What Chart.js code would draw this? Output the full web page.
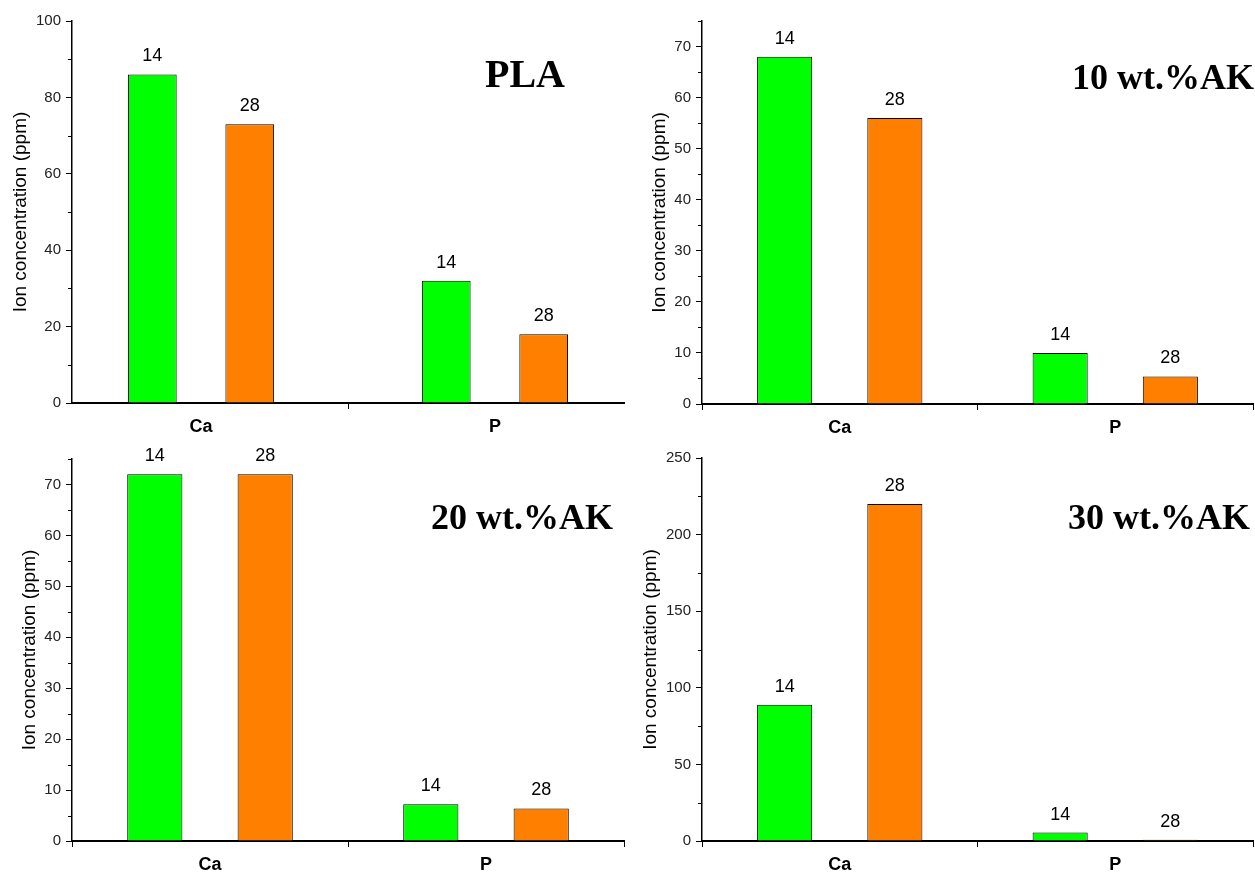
<!DOCTYPE html>
<html>
<head>
<meta charset="utf-8">
<title>Ion concentration</title>
<script src="https://cdn.jsdelivr.net/npm/chart.js@4.4.1/dist/chart.umd.min.js"></script>
<style>
  body { margin: 0; background: #fff; }
  #wrap { position: relative; width: 1255px; height: 875px; overflow: hidden; }
  canvas { position: absolute; }
</style>
</head>
<body>
<div id="wrap">
  <canvas id="pla" width="630" height="440" style="left:0;top:0"></canvas>
  <canvas id="ak10" width="625" height="440" style="left:630px;top:0"></canvas>
  <canvas id="ak20" width="630" height="435" style="left:0;top:440px"></canvas>
  <canvas id="ak30" width="625" height="435" style="left:630px;top:440px"></canvas>
</div>
<script>
"use strict";

// Data

let categories = ["Ca", "P"];
let days = ["14", "28"];

let plaDay14 = [86, 32];
let plaDay28 = [73, 18];

let ak10Day14 = [68, 10];
let ak10Day28 = [56, 5.4];

let ak20Day14 = [72, 7.2];
let ak20Day28 = [72, 6.4];

let ak30Day14 = [89, 5.5];
let ak30Day28 = [220, 0.8];

let yTitle = "Ion concentration (ppm)";

let green = "#00ff00";
let orange = "#ff8000";

let sans = "'Liberation Sans', Arial, sans-serif";
let serif = "'Liberation Serif', 'Times New Roman', serif";

Chart.defaults.font.family = sans;
Chart.defaults.color = "#000";

// numbers on top of the bars

let barLabels = {
  id: "barLabels",
  afterDatasetsDraw(chart) {
    let ctx = chart.ctx;
    ctx.save();
    ctx.font = "18px " + sans;
    ctx.fillStyle = "#000";
    ctx.textAlign = "center";
    ctx.textBaseline = "alphabetic";
    chart.data.datasets.forEach((ds, i) => {
      chart.getDatasetMeta(i).data.forEach((bar) => {
        ctx.fillText(ds.label, bar.x, bar.y - 13);
      });
    });
    ctx.restore();
  },
};

// short minor ticks between the labelled ones

let minorTicks = {
  id: "minorTicks",
  afterDraw(chart, args, opts) {
    let scale = chart.scales.y;
    let ctx = chart.ctx;
    ctx.save();
    ctx.strokeStyle = "#000";
    ctx.lineWidth = 1;
    scale.ticks.forEach((t) => {
      if (t.value % opts.major !== 0) {
        let y = Math.round(scale.getPixelForValue(t.value)) + 0.5;
        ctx.beginPath();
        ctx.moveTo(scale.right - 4, y);
        ctx.lineTo(scale.right, y);
        ctx.stroke();
      }
    });
    ctx.restore();
  },
};

// the big sample name in each panel

let panelTitle = {
  id: "panelTitle",
  afterDraw(chart, args, opts) {
    let ctx = chart.ctx;
    ctx.save();
    ctx.font = "bold " + opts.size + "px " + serif;
    ctx.fillStyle = "#000";
    ctx.textAlign = opts.align;
    ctx.textBaseline = "alphabetic";
    ctx.fillText(opts.text, opts.x, opts.y);
    ctx.restore();
  },
};

function makePanel(id, day14, day28, yMax, minorStep, majorStep, p) {
  let canvas = document.getElementById(id);
  return new Chart(canvas, {
    type: "bar",
    data: {
      labels: categories,
      datasets: [
        { label: days[0], data: day14, backgroundColor: green },
        { label: days[1], data: day28, backgroundColor: orange },
      ],
    },
    options: {
      responsive: false,
      animation: false,
      devicePixelRatio: 1,
      layout: { padding: { top: p.top, right: canvas.width - p.right, left: 0, bottom: 0 } },
      datasets: {
        bar: {
          borderColor: "#000",
          borderWidth: 1,
          categoryPercentage: p.cat,
          barPercentage: 0.5,
        },
      },
      plugins: {
        legend: { display: false },
        tooltip: { enabled: false },
        minorTicks: { major: majorStep },
        panelTitle: { text: p.title, x: p.titleX, y: p.titleY, size: p.titleSize, align: p.titleAlign },
      },
      scales: {
        x: {
          // the PLA panel leaves a little less room at the axis ends than half a category
          afterBuildTicks: (scale) => {
            if (p.edge) {
              scale._startValue = -p.edge;
              scale._valueRange = 1 + 2 * p.edge;
            }
          },
          afterFit: (scale) => { scale.height = canvas.height - p.bottom; },
          grid: { drawOnChartArea: false, offset: true, tickLength: 6, tickColor: "#000", tickWidth: 1 },
          border: { display: true, color: "#000", width: 2 },
          ticks: { font: { size: 18, weight: "bold" }, padding: 7, color: "#000" },
        },
        y: {
          min: 0,
          max: yMax,
          afterFit: (scale) => { scale.width = 72; },
          grid: {
            drawOnChartArea: false,
            tickLength: 6,
            tickWidth: 1,
            tickColor: (c) => (c.tick && c.tick.value % majorStep === 0 ? "#000" : "rgba(0,0,0,0)"),
          },
          border: { display: true, color: "#000", width: 1.5 },
          ticks: {
            stepSize: minorStep,
            autoSkip: false,
            padding: 5,
            font: { size: 15 },
            color: "#222",
            callback: (v) => (v % majorStep === 0 ? v : ""),
          },
          title: {
            display: true,
            text: yTitle,
            font: { size: 19 },
            color: "#000",
            padding: { top: p.yTitlePad, bottom: 0 },
          },
        },
      },
    },
    plugins: [barLabels, minorTicks, panelTitle],
  });
}

makePanel("pla", plaDay14, plaDay28, 100, 10, 20, {
  top: 21, bottom: 403, right: 624, cat: 0.663, edge: 0.439, yTitlePad: 9,
  title: "PLA", titleX: 525, titleY: 87, titleSize: 40, titleAlign: "center",
});

makePanel("ak10", ak10Day14, ak10Day28, 75, 5, 10, {
  top: 21, bottom: 404, right: 623, cat: 0.8, yTitlePad: 18,
  title: "10 wt.%AK", titleX: 624, titleY: 89, titleSize: 36, titleAlign: "right",
});

makePanel("ak20", ak20Day14, ak20Day28, 75, 5, 10, {
  top: 19, bottom: 401, right: 624, cat: 0.8, yTitlePad: 18,
  title: "20 wt.%AK", titleX: 613, titleY: 89, titleSize: 36, titleAlign: "right",
});

makePanel("ak30", ak30Day14, ak30Day28, 250, 25, 50, {
  top: 18, bottom: 401, right: 623, cat: 0.8, yTitlePad: 9,
  title: "30 wt.%AK", titleX: 620, titleY: 89, titleSize: 36, titleAlign: "right",
});
</script>
</body>
</html>
